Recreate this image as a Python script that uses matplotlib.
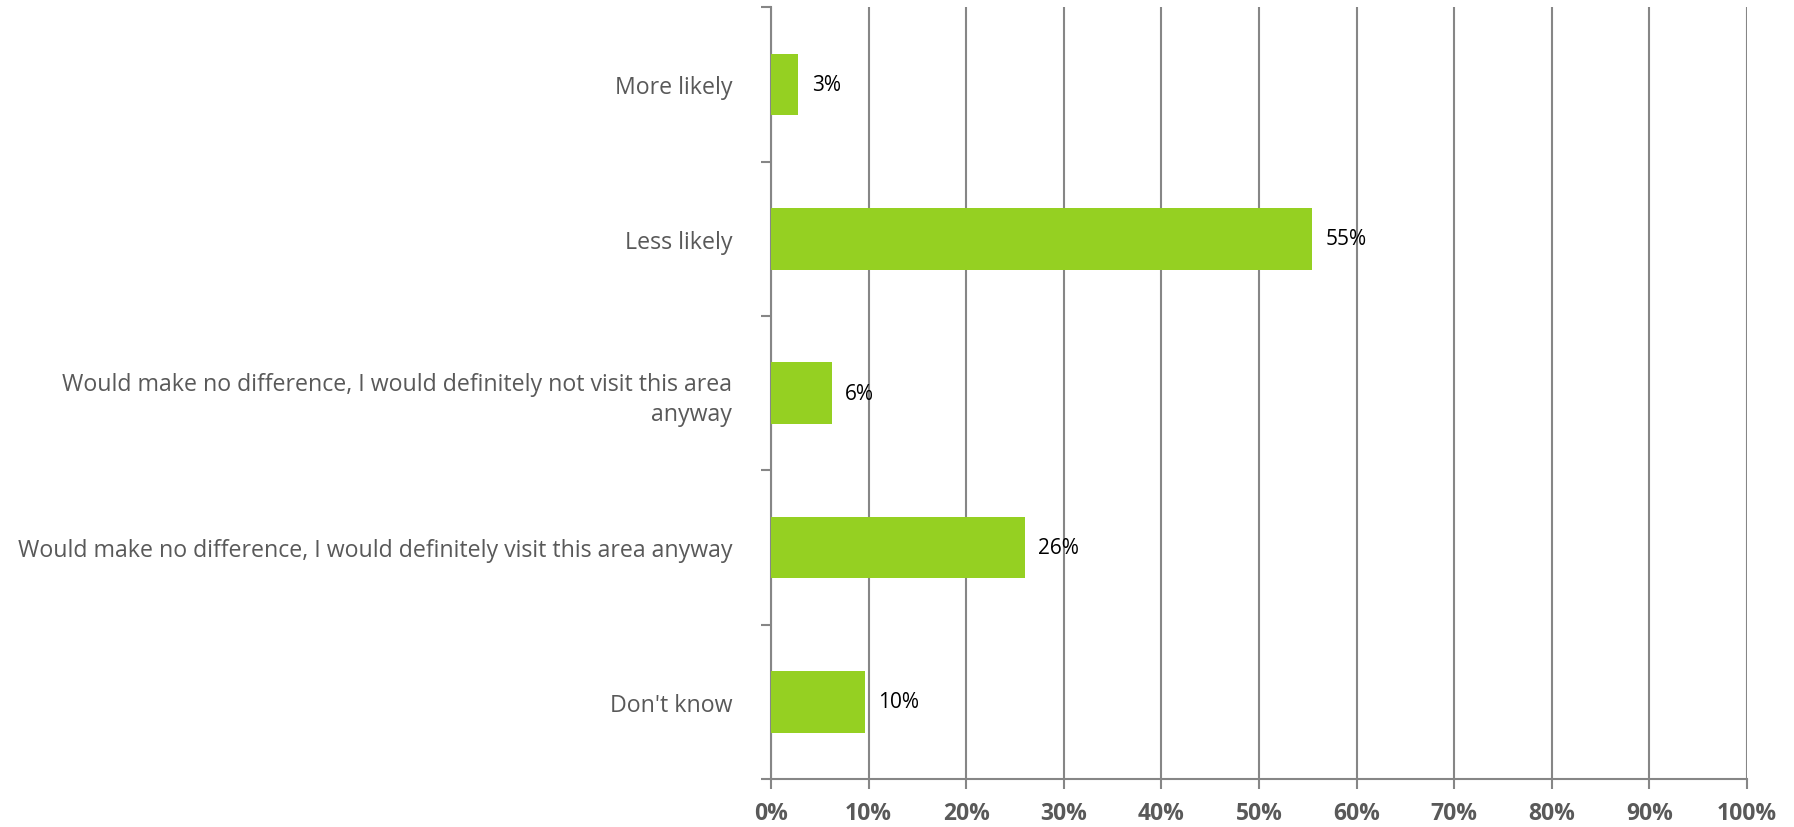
import numpy as np
import matplotlib.pyplot as plt
from matplotlib.ticker import PercentFormatter, FixedLocator

plt.rcParams['font.family'] = ['Open Sans', 'DejaVu Sans']

categories = [
    "More likely",
    "Less likely",
    "Would make no difference, I would definitely not visit this area\nanyway",
    "Would make no difference, I would definitely visit this area anyway",
    "Don't know",
]
values = [2.8, 55.4, 6.2, 26.0, 9.6]
labels = ["3%", "55%", "6%", "26%", "10%"]

bar_color = "#95d022"
grid_color = "#868686"
text_gray = "#595959"

fig = plt.figure(figsize=(17.94, 8.28), dpi=100)
ax = fig.add_axes([0.4298, 0.058, 0.5440, 0.932])

y = np.arange(len(categories))
bars = ax.barh(y, values, height=0.4, color=bar_color, zorder=3)

for b, lab in zip(bars, labels):
    ax.text(b.get_width() + 1.4, b.get_y() + b.get_height() / 2, lab,
            va="center", ha="left", fontsize=15, color="black", zorder=4)

ax.set_xlim(0, 100)
ax.set_ylim(len(categories) - 0.5, -0.5)
ax.set_xticks(np.arange(0, 101, 10))
ax.xaxis.set_major_formatter(PercentFormatter(decimals=0))
ax.set_yticks(y)
ax.set_yticklabels(categories, fontsize=16.7, color=text_gray, linespacing=1.35)
ax.tick_params(axis="y", which="major", length=0, pad=28)
ax.yaxis.set_minor_locator(FixedLocator(np.arange(-0.5, len(categories), 1)))
ax.tick_params(axis="y", which="minor", length=7, width=1.5, color=grid_color)
ax.tick_params(axis="x", length=7, width=1.5, color=grid_color, pad=9,
               labelsize=16.5, labelcolor=text_gray)
for t in ax.get_xticklabels():
    t.set_fontweight("bold")

ax.grid(axis="x", color=grid_color, linewidth=1.5, zorder=0)
ax.set_axisbelow(True)
for side in ["top", "right"]:
    ax.spines[side].set_visible(False)
for side in ["left", "bottom"]:
    ax.spines[side].set_color(grid_color)
    ax.spines[side].set_linewidth(1.5)

fig.savefig("out.png", dpi=100)
